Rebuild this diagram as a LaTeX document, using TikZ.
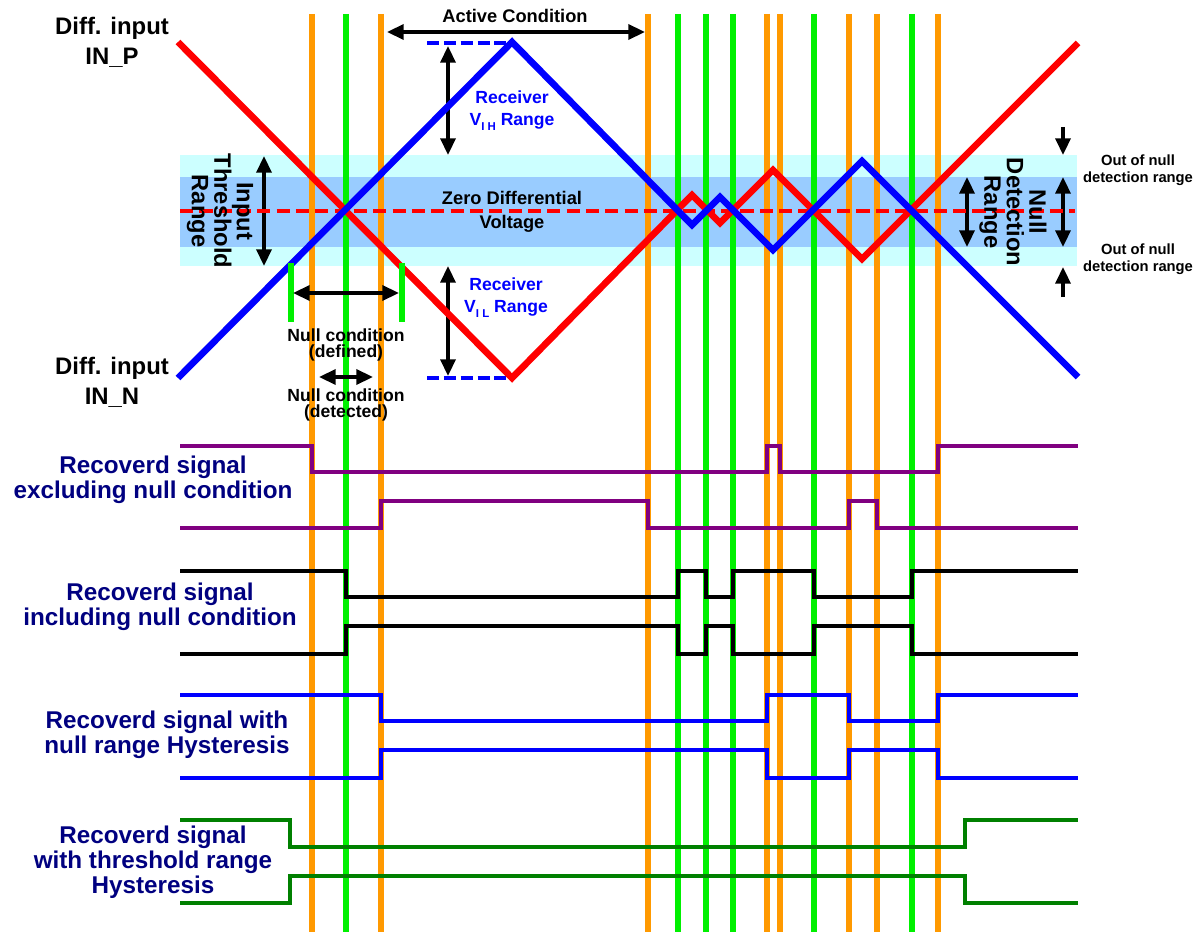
\documentclass[tikz,border=0pt]{standalone}
\usepackage{fontspec}
\setmainfont{Liberation Sans}
\usetikzlibrary{arrows.meta}
\definecolor{vorange}{HTML}{FF9900}
\definecolor{vgreen}{HTML}{00F000}
\definecolor{bandcyan}{HTML}{CCFFFF}
\definecolor{bandblue}{HTML}{99CCFF}
\definecolor{navy}{HTML}{000080}
\definecolor{sigpurple}{HTML}{800080}
\definecolor{siggreen}{HTML}{008000}
\begin{document}
\begin{tikzpicture}[x=0.02cm,y=-0.02cm,
  vline/.style={line width=3.1pt},
  diag/.style={line width=3.8pt},
  sig/.style={line width=2pt},
  dim/.style={line width=2pt,{Triangle[length=9.5pt,width=8.5pt]}-{Triangle[length=9.5pt,width=8.5pt]}},
  onehead/.style={line width=2pt,-{Triangle[length=9.5pt,width=8.5pt]}},
  lbl/.style={inner sep=0pt,align=center,font=\bfseries\fontsize{13.6}{17}\selectfont},
  siglbl/.style={inner sep=0pt,align=center,text=navy,font=\bfseries\fontsize{13.8}{14.3}\selectfont},
  small/.style={inner sep=0pt,align=center,font=\bfseries\fontsize{10}{9.3}\selectfont},
  rcv/.style={inner sep=0pt,align=center,text=blue,font=\bfseries\fontsize{10}{12.5}\selectfont},
  tiny/.style={inner sep=0pt,align=center,font=\bfseries\fontsize{8.4}{9.8}\selectfont},
  rot/.style={inner sep=0pt,align=center,rotate=-90,font=\bfseries\fontsize{13.5}{12.8}\selectfont}]
\useasboundingbox (0,0) rectangle (1202,932);
% bands
\fill[bandcyan] (180,155) rectangle (1077,266);
\fill[bandblue] (180,177) rectangle (1077,247);
% vertical timing lines
\foreach \x in {312,381,648,767,780,849,877,938}
  \draw[vline,vorange] (\x,14) -- (\x,932);
\foreach \x in {346,678,706,733,814,912}
  \draw[vline,vgreen] (\x,14) -- (\x,932);
% arrows in the band region
\coordinate (itt) at (264,156); \coordinate (itb) at (264,266);
\draw[dim] (itt) -- (itb);
\coordinate (ndt) at (967,177); \coordinate (ndb) at (967,247);
\draw[dim] (ndt) -- (ndb);
\coordinate (ort) at (1063,177); \coordinate (orb) at (1063,247);
\draw[dim] (ort) -- (orb);
\coordinate (odt0) at (1063,127); \coordinate (odt1) at (1063,155);
\draw[onehead] (odt0) -- (odt1);
\coordinate (odb0) at (1063,297); \coordinate (odb1) at (1063,267);
\draw[onehead] (odb0) -- (odb1);
% zero line
\draw[red,line width=2.1pt,dash pattern=on 7.5pt off 3.5pt] (180,211) -- (1075,211);
% receiver range markers
\draw[blue,line width=2pt,dash pattern=on 6.8pt off 2.8pt] (427,43) -- (512,43);
\draw[blue,line width=2pt,dash pattern=on 6.8pt off 2.8pt] (427,378) -- (512,378);
\coordinate (vih0) at (448,46); \coordinate (vih1) at (448,155);
\draw[dim] (vih0) -- (vih1);
\coordinate (vil0) at (448,266); \coordinate (vil1) at (448,376);
\draw[dim] (vil0) -- (vil1);
% active condition
\coordinate (ac0) at (387,32); \coordinate (ac1) at (645,32);
\draw[dim] (ac0) -- (ac1);
\node[small,font=\bfseries\fontsize{10.4}{12}\selectfont] (actlbl) at (515,16) {Active Condition};
% diagonals
\draw[diag,red] (178,42) -- (512,378) -- (692,195) -- (720,223) -- (773,170) -- (862,259) -- (1078,43);
\draw[diag,blue] (178,378) -- (512,42) -- (692,225) -- (720,197) -- (773,250) -- (862,161) -- (1078,377);
% null condition markers
\draw[vline,vgreen] (291,263) -- (291,322);
\draw[vline,vgreen] (402,263) -- (402,322);
\coordinate (nd0) at (293,293); \coordinate (nd1) at (399,293);
\draw[dim] (nd0) -- (nd1);
\coordinate (nt0) at (319,377); \coordinate (nt1) at (373,377);
\draw[dim] (nt0) -- (nt1);
\node[small] (ndl) at (346,345) {Null condition\\(defined)};
\node[small] (ntl) at (346,405) {Null condition\\(detected)};
% labels top
\node[lbl] (inp) at (112,42) {Diff. input\\IN\_P};
\node[lbl] (inn) at (112,382) {Diff. input\\IN\_N};
\node[rcv] (rvih) at (512,111) {Receiver\\V\raisebox{-0.55ex}{\fontsize{6.5}{6.5}\selectfont I H} Range};
\node[rcv] (rvil) at (506,298) {Receiver\\V\raisebox{-0.55ex}{\fontsize{6.5}{6.5}\selectfont I L} Range};
\node[small,font=\bfseries\fontsize{10.4}{13.6}\selectfont] (zdv) at (512,212) {Zero Differential\\Voltage};
\node[rot] (itr) at (220,211) {Input\\Threshold\\Range};
\node[rot] (ndr) at (1013,212) {Null\\Detection\\Range};
\node[tiny] (oo1) at (1138,170) {Out of null\\detection range};
\node[tiny] (oo2) at (1138,259) {Out of null\\detection range};
% recovered signals
\draw[sig,sigpurple] (180,446) -| (312,472) -| (767,446) -| (780,472) -| (938,446) -- (1078,446);
\draw[sig,sigpurple] (180,528) -| (381,501) -| (648,528) -| (849,501) -| (877,528) -- (1078,528);
\draw[sig,black] (180,571) -| (346,597) -| (678,571) -| (706,597) -| (733,571) -| (814,597) -| (912,571) -- (1078,571);
\draw[sig,black] (180,654) -| (346,626) -| (678,654) -| (706,626) -| (733,654) -| (814,626) -| (912,654) -- (1078,654);
\draw[sig,blue] (180,695) -| (381,721) -| (767,695) -| (849,721) -| (938,695) -- (1078,695);
\draw[sig,blue] (180,778) -| (381,750) -| (767,778) -| (849,750) -| (938,778) -- (1078,778);
\draw[sig,siggreen] (180,820) -| (290,847) -| (965,820) -- (1078,820);
\draw[sig,siggreen] (180,903) -| (290,876) -| (965,903) -- (1078,903);
\node[siglbl] (s1) at (153,480) {Recoverd signal\\excluding null condition};
\node[siglbl] (s2) at (160,607) {Recoverd signal\\including null condition};
\node[siglbl] (s3) at (167,735) {Recoverd signal with\\null range Hysteresis};
\node[siglbl] (s4) at (153,862) {Recoverd signal\\with threshold range\\Hysteresis};
\end{tikzpicture}
\end{document}
